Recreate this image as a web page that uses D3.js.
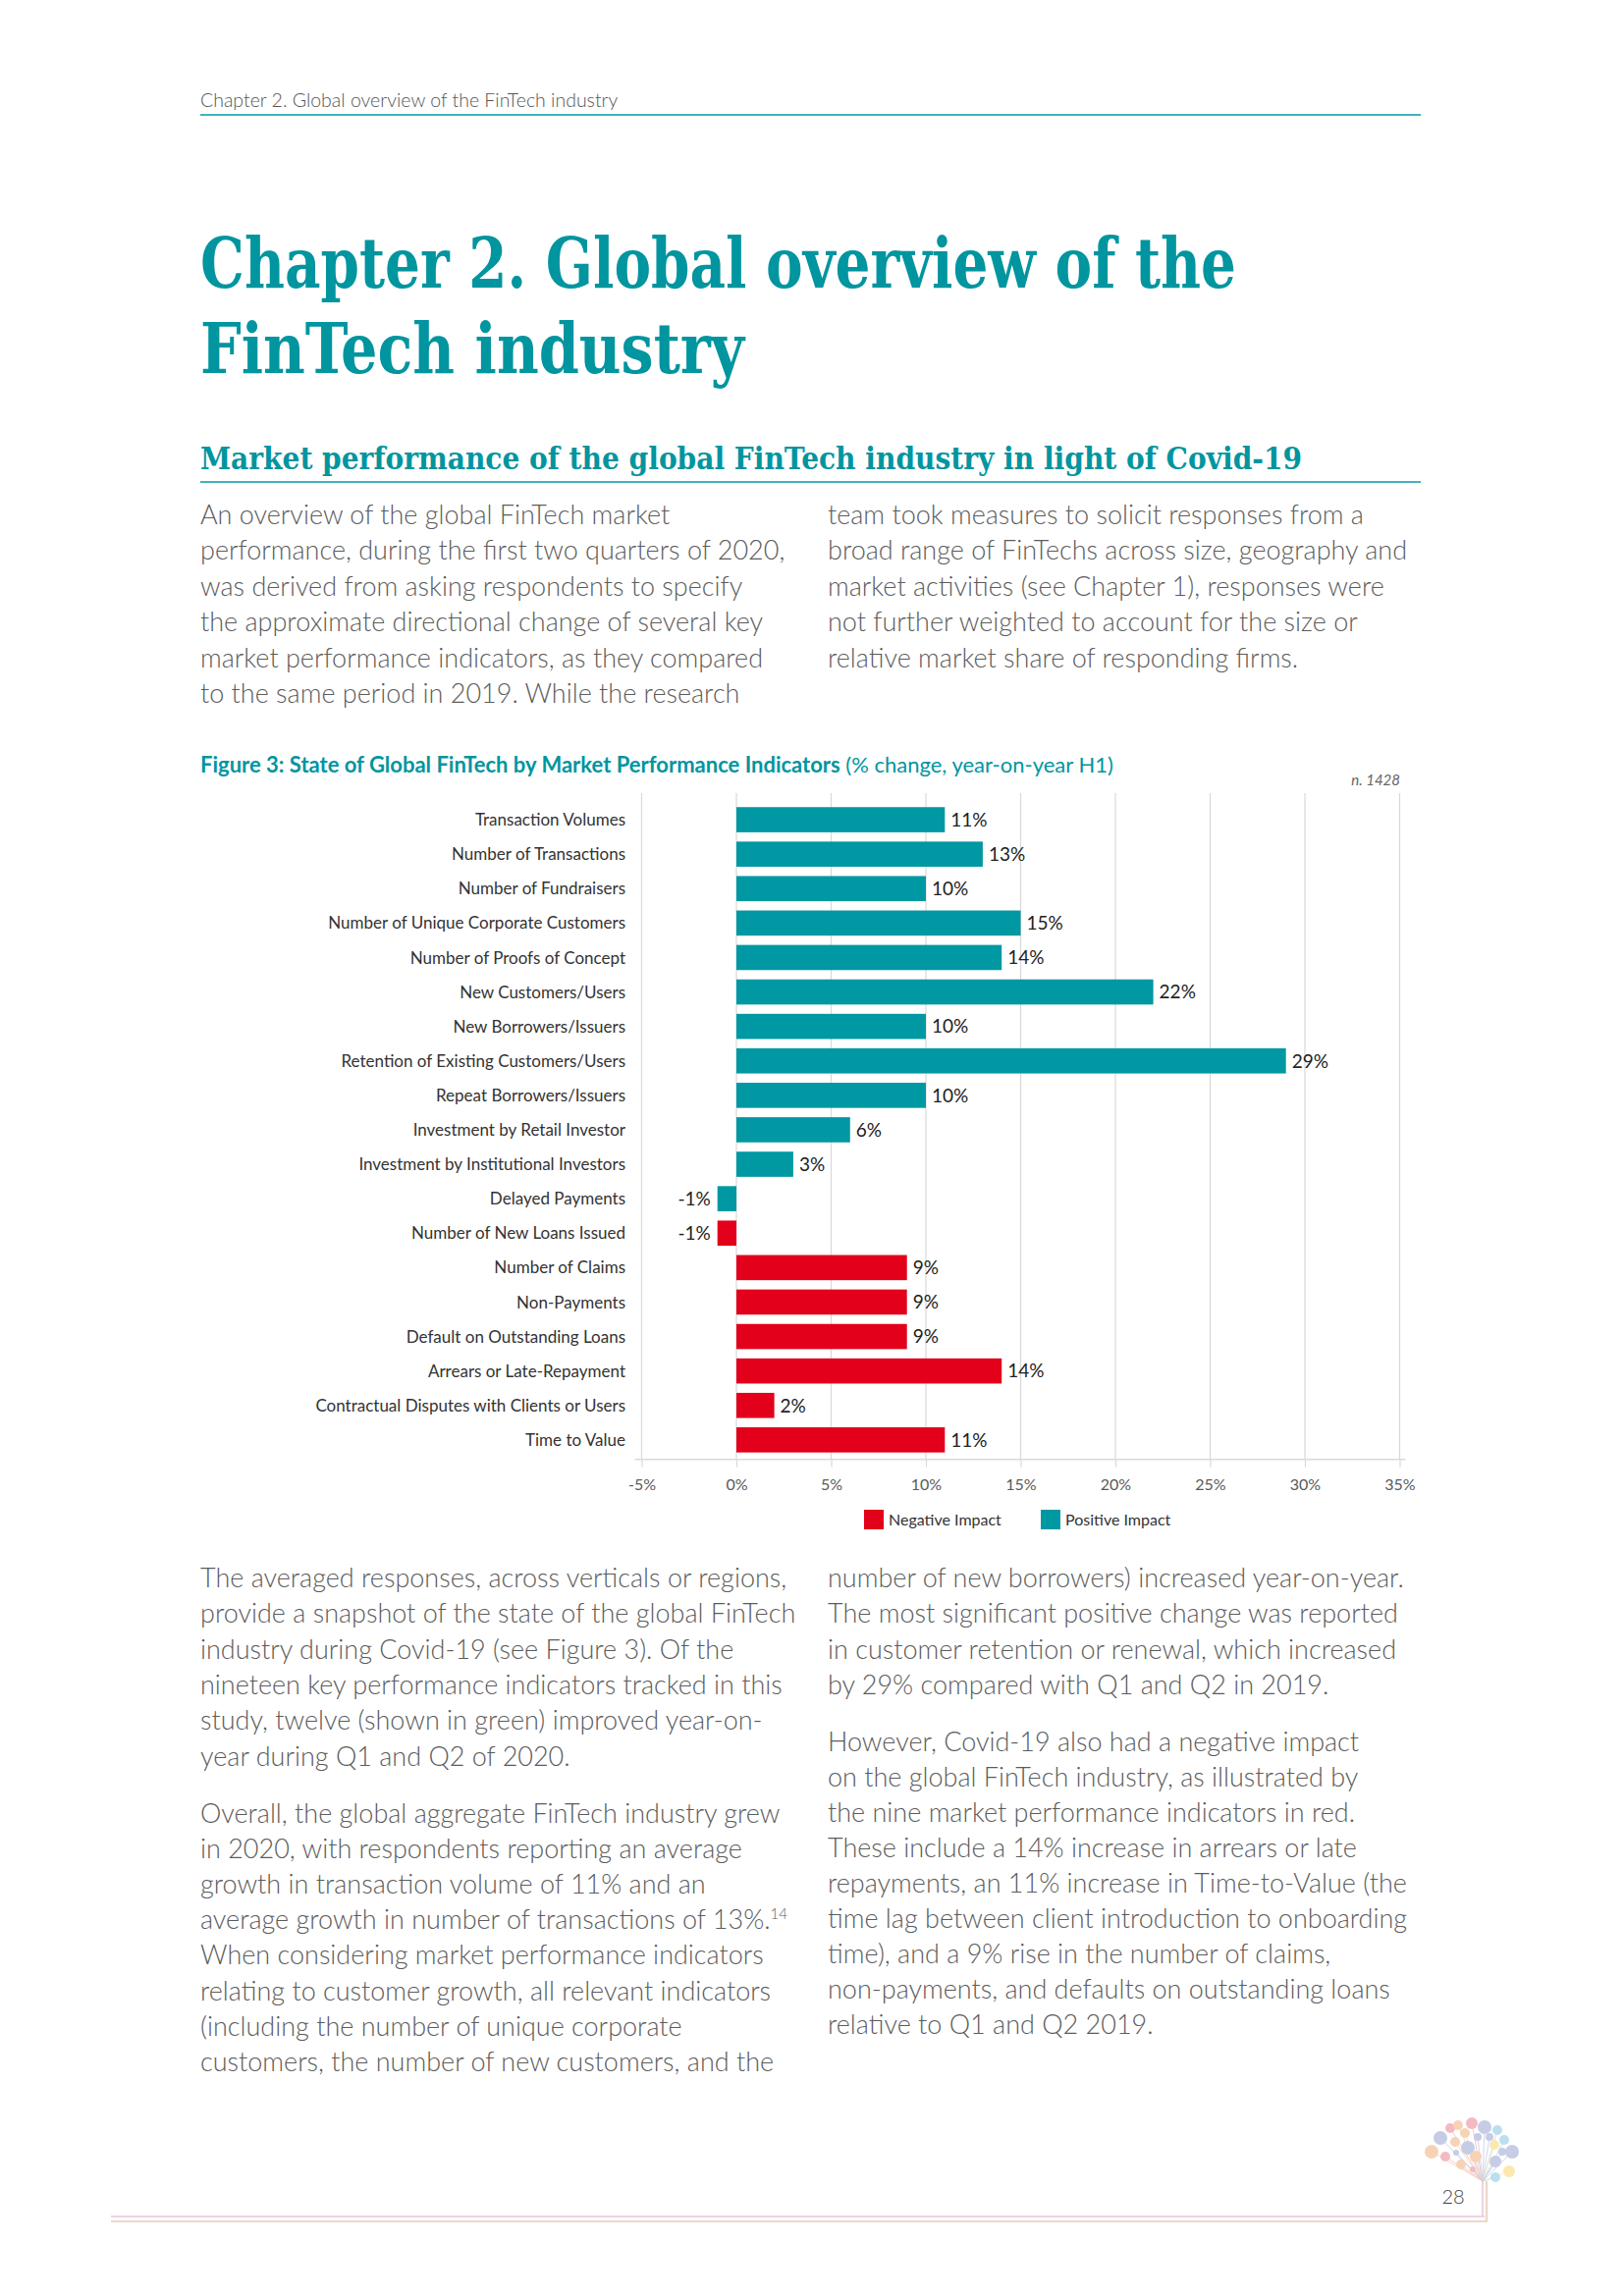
<!DOCTYPE html>
<html>
<head>
<meta charset="utf-8">
<script src="https://cdn.jsdelivr.net/npm/d3@7"></script>
<style>
  body { margin: 0; background: #fff; }
  svg { display: block; }
  .body-text { font-family: Lato, "Open Sans", sans-serif; font-weight: 300; font-size: 27px; fill: #5c5c5c; }
</style>
</head>
<body>
<svg id="page" width="1654" height="2339"></svg>
<script>
// chart data
const categories = [
  "Transaction Volumes", "Number of Transactions", "Number of Fundraisers",
  "Number of Unique Corporate Customers", "Number of Proofs of Concept",
  "New Customers/Users", "New Borrowers/Issuers", "Retention of Existing Customers/Users",
  "Repeat Borrowers/Issuers", "Investment by Retail Investor",
  "Investment by Institutional Investors", "Delayed Payments",
  "Number of New Loans Issued", "Number of Claims", "Non-Payments",
  "Default on Outstanding Loans", "Arrears or Late-Repayment",
  "Contractual Disputes with Clients or Users", "Time to Value"
];
const values = [11, 13, 10, 15, 14, 22, 10, 29, 10, 6, 3, -1, -1, 9, 9, 9, 14, 2, 11];
const impact = ["Positive Impact", "Positive Impact", "Positive Impact", "Positive Impact",
  "Positive Impact", "Positive Impact", "Positive Impact", "Positive Impact", "Positive Impact",
  "Positive Impact", "Positive Impact", "Positive Impact",
  "Negative Impact", "Negative Impact", "Negative Impact", "Negative Impact",
  "Negative Impact", "Negative Impact", "Negative Impact"];
const legendItems = ["Negative Impact", "Positive Impact"];
const xTicks = [-5, 0, 5, 10, 15, 20, 25, 30, 35];

const teal = "#0098a3";
const red = "#e2001a";
const colour = d3.scaleOrdinal().domain(["Negative Impact", "Positive Impact"]).range([red, teal]);

const svg = d3.select("#page");

// page header
svg.append("text").attr("x", 204).attr("y", 109)
  .style("font-family", "Lato, sans-serif").style("font-weight", 300)
  .style("font-size", "19.5px").style("fill", "#555")
  .text("Chapter 2. Global overview of the FinTech industry");
svg.append("line").attr("x1", 204).attr("x2", 1447).attr("y1", 117).attr("y2", 117)
  .attr("stroke", teal).attr("stroke-width", 1.5);

// chapter title
const slab = "'DejaVu Serif Condensed', 'DejaVu Serif', serif";
[["Chapter 2. Global overview of the", 293, 1055], ["FinTech industry", 380, 554]].forEach(([t, y, w]) => {
  svg.append("text").attr("x", 204).attr("y", y)
    .attr("textLength", w).attr("lengthAdjust", "spacingAndGlyphs")
    .style("font-family", slab).style("font-weight", 700).style("font-size", "71px")
    .style("fill", "#00959f").text(t);
});

svg.append("text").attr("x", 204).attr("y", 478)
  .attr("textLength", 1122).attr("lengthAdjust", "spacingAndGlyphs")
  .style("font-family", slab).style("font-weight", 700).style("font-size", "32px")
  .style("fill", "#00959f")
  .text("Market performance of the global FinTech industry in light of Covid-19");
svg.append("line").attr("x1", 204).attr("x2", 1447).attr("y1", 491).attr("y2", 491)
  .attr("stroke", teal).attr("stroke-width", 1.5);

// body text
function para(lines, x, y0, step) {
  const t = svg.append("text").attr("class", "body-text");
  lines.forEach((l, i) => {
    const ts = t.append("tspan").attr("x", x).attr("y", y0 + i * step);
    if (typeof l === "string") ts.text(l);
    else {
      ts.text(l[0]);
      t.append("tspan").attr("dy", -10).style("font-size", "15px").text(l[1]);
    }
  });
}

para(["An overview of the global FinTech market",
  "performance, during the first two quarters of 2020,",
  "was derived from asking respondents to specify",
  "the approximate directional change of several key",
  "market performance indicators, as they compared",
  "to the same period in 2019. While the research"], 204, 534, 36.4);
para(["team took measures to solicit responses from a",
  "broad range of FinTechs across size, geography and",
  "market activities (see Chapter 1), responses were",
  "not further weighted to account for the size or",
  "relative market share of responding firms."], 843, 534, 36.4);

para(["The averaged responses, across verticals or regions,",
  "provide a snapshot of the state of the global FinTech",
  "industry during Covid-19 (see Figure 3). Of the",
  "nineteen key performance indicators tracked in this",
  "study, twelve (shown in green) improved year-on-",
  "year during Q1 and Q2 of 2020."], 204, 1617, 36.3);
para(["Overall, the global aggregate FinTech industry grew",
  "in 2020, with respondents reporting an average",
  "growth in transaction volume of 11% and an",
  ["average growth in number of transactions of 13%.", "14"],
  "When considering market performance indicators",
  "relating to customer growth, all relevant indicators",
  "(including the number of unique corporate",
  "customers, the number of new customers, and the"], 204, 1857, 36.1);
para(["number of new borrowers) increased year-on-year.",
  "The most significant positive change was reported",
  "in customer retention or renewal, which increased",
  "by 29% compared with Q1 and Q2 in 2019."], 843, 1617, 36.3);
para(["However, Covid-19 also had a negative impact",
  "on the global FinTech industry, as illustrated by",
  "the nine market performance indicators in red.",
  "These include a 14% increase in arrears or late",
  "repayments, an 11% increase in Time-to-Value (the",
  "time lag between client introduction to onboarding",
  "time), and a 9% rise in the number of claims,",
  "non-payments, and defaults on outstanding loans",
  "relative to Q1 and Q2 2019."], 843, 1784, 36.0);

// figure title
const ft = svg.append("text").attr("x", 204).attr("y", 787)
  .style("font-family", "Lato, sans-serif").style("font-size", "22px").style("fill", "#00959f");
ft.append("tspan").style("font-weight", 700)
  .text("Figure 3: State of Global FinTech by Market Performance Indicators");
ft.append("tspan").style("font-weight", 400).text(" (% change, year-on-year H1)");

svg.append("text").attr("x", 1426).attr("y", 800).attr("text-anchor", "end")
  .style("font-family", "Lato, sans-serif").style("font-style", "italic")
  .style("font-size", "15px").style("fill", "#666").text("n. 1428");

// chart
const x = d3.scaleLinear().domain([-5, 35]).range([653.5, 1425.5]);
const y = d3.scaleBand().domain(categories).range([817.5, 1484.4])
  .paddingInner(0.27).paddingOuter(0.135);
const axisY = 1486.7;

svg.append("g").selectAll("line").data(xTicks).join("line")
  .attr("x1", d => x(d)).attr("x2", d => x(d))
  .attr("y1", 808).attr("y2", axisY)
  .attr("stroke", "#d9d9d9").attr("stroke-width", 1.2);

const gx = svg.append("g").attr("transform", `translate(0,${axisY})`)
  .call(d3.axisBottom(x).tickValues(xTicks).tickFormat(d => d + "%")
    .tickSize(8).tickSizeOuter(0).tickPadding(12));
gx.select(".domain").remove();
gx.selectAll(".tick line").attr("stroke", "#d9d9d9").attr("stroke-width", 1.2);
gx.selectAll(".tick text").style("font-family", "Lato, sans-serif")
  .style("font-size", "16px").style("fill", "#595959");
gx.append("line").attr("x1", x(-5) - 7).attr("x2", x(35) + 6)
  .attr("stroke", "#d9d9d9").attr("stroke-width", 1.5);

const rows = categories.map((c, i) => ({ c, v: values[i], s: impact[i] }));

svg.append("g").selectAll("rect").data(rows).join("rect")
  .attr("x", d => x(Math.min(0, d.v)))
  .attr("width", d => Math.abs(x(d.v) - x(0)))
  .attr("y", d => y(d.c))
  .attr("height", y.bandwidth())
  .attr("fill", d => colour(d.s));

svg.append("g").selectAll("text").data(rows).join("text")
  .attr("x", d => d.v < 0 ? x(d.v) - 7 : x(d.v) + 6)
  .attr("y", d => y(d.c) + y.bandwidth() / 2)
  .attr("dy", "0.36em")
  .attr("text-anchor", d => d.v < 0 ? "end" : "start")
  .style("font-family", "Lato, sans-serif").style("font-size", "19px").style("fill", "#222")
  .text(d => d.v + "%");

svg.append("g").selectAll("text").data(categories).join("text")
  .attr("x", 637)
  .attr("y", d => y(d) + y.bandwidth() / 2)
  .attr("dy", "0.36em")
  .attr("text-anchor", "end")
  .style("font-family", "Lato, sans-serif").style("font-size", "17px").style("fill", "#333")
  .text(d => d);

// legend
const lg = svg.append("g").selectAll("g").data(legendItems).join("g")
  .attr("transform", (d, i) => `translate(${[880, 1060][i]},1538)`);
lg.append("rect").attr("width", 20).attr("height", 20).attr("fill", d => colour(d));
lg.append("text").attr("x", 25).attr("y", 16)
  .style("font-family", "Lato, sans-serif").style("font-size", "16px").style("fill", "#333")
  .text(d => d);

// footer decoration
const footPink = "#edd3e0", footBeige = "#ead9c9";
svg.append("line").attr("x1", 113).attr("x2", 1512).attr("y1", 2258).attr("y2", 2258)
  .attr("stroke", footPink).attr("stroke-width", 2);
svg.append("line").attr("x1", 113).attr("x2", 1515).attr("y1", 2263).attr("y2", 2263)
  .attr("stroke", footBeige).attr("stroke-width", 2);
svg.append("line").attr("x1", 1510).attr("x2", 1510).attr("y1", 2220).attr("y2", 2258)
  .attr("stroke", footPink).attr("stroke-width", 2);
svg.append("line").attr("x1", 1514).attr("x2", 1514).attr("y1", 2222).attr("y2", 2263)
  .attr("stroke", footBeige).attr("stroke-width", 2.5);

const leafColours = { p: "#b9c0e0", o: "#f6c9a4", k: "#f2a9b6", b: "#a9d8ec", y: "#fbe39a" };
const leaves = [
  [1467, 2178, 7, "p"], [1458, 2192, 7, "o"], [1477, 2168, 5, "k"], [1485, 2165, 5, "o"],
  [1499, 2163, 6, "k"], [1512, 2167, 7, "p"], [1525, 2170, 5, "b"], [1492, 2173, 5, "o"],
  [1495, 2188, 7, "p"], [1505, 2177, 4, "p"], [1517, 2177, 4, "p"], [1532, 2180, 5, "b"],
  [1522, 2185, 5, "y"], [1540, 2192, 7, "p"], [1530, 2192, 4, "p"], [1523, 2202, 6, "p"],
  [1537, 2212, 6, "y"], [1523, 2218, 5, "b"], [1503, 2197, 6, "o"], [1488, 2205, 5, "o"],
  [1500, 2210, 3, "k"], [1472, 2197, 5, "k"], [1482, 2182, 5, "o"], [1483, 2193, 3, "p"]
];
const tree = svg.append("g").attr("opacity", 0.8);
tree.selectAll("line").data(leaves).join("line")
  .attr("x1", 1510).attr("y1", 2222).attr("x2", d => d[0]).attr("y2", d => d[1])
  .attr("stroke", d => leafColours[d[3]]).attr("stroke-width", 0.8);
tree.selectAll("circle").data(leaves).join("circle")
  .attr("cx", d => d[0]).attr("cy", d => d[1]).attr("r", d => d[2])
  .attr("fill", d => leafColours[d[3]]);

svg.append("text").attr("x", 1480).attr("y", 2245).attr("text-anchor", "middle")
  .style("font-family", "Lato, sans-serif").style("font-weight", 300)
  .style("font-size", "20px").style("fill", "#444").text("28");
</script>
</body>
</html>
